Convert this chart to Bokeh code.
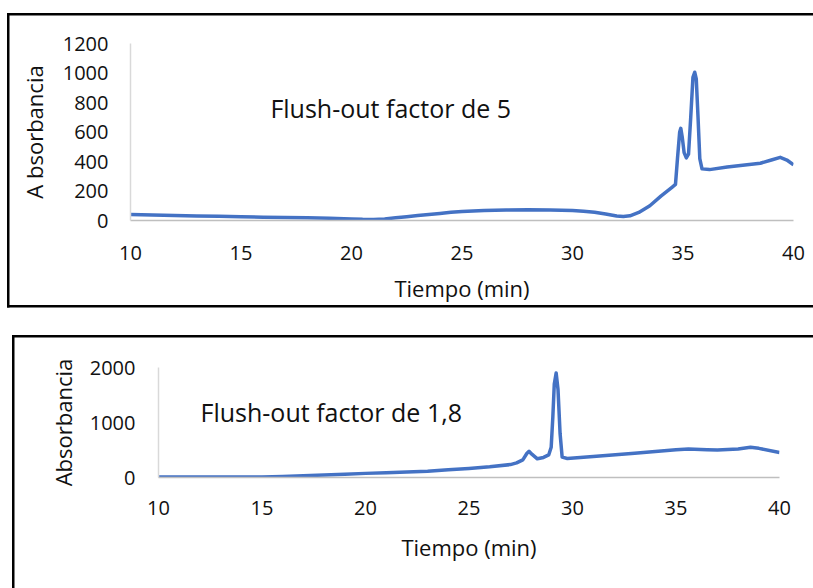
from bokeh.plotting import figure
from bokeh.models import Range1d, FixedTicker, Label
from bokeh.embed import file_html
from bokeh.resources import INLINE

FONT = "Open Sans"
LINE_COLOR = "#4472C4"

# ---- Data: Flush-out factor de 5 ----
time_5 = [10, 11, 12, 13, 14, 15, 16, 17, 18, 19, 20, 20.5, 21, 21.5, 22, 22.5,
          23, 24, 24.5, 25, 26, 27, 28, 29, 30, 30.5, 31, 31.5, 32, 32.3, 32.6,
          33, 33.5, 34, 34.5, 34.66, 34.75, 34.85, 34.9, 34.97, 35.05, 35.15,
          35.25, 35.35, 35.45, 35.53, 35.6, 35.68, 35.76, 35.86, 36.2, 37, 38,
          38.5, 39, 39.4, 39.7, 40]
abs_5 = [40, 37, 34, 31, 28, 25, 22, 20, 18, 15, 11, 8, 7, 10, 18, 26,
         34, 48, 56, 61, 67, 71, 73, 71, 67, 63, 56, 44, 30, 27, 32,
         55, 100, 165, 225, 245, 420, 600, 625, 560, 460, 425,
         450, 700, 970, 1005, 960, 700, 420, 350, 345, 362, 380,
         388, 410, 428, 410, 378]

# ---- Data: Flush-out factor de 1,8 ----
time_18 = [10, 12, 14, 15, 16, 17, 18, 19, 20, 21, 22, 23, 24, 25, 26, 27,
           27.3, 27.6, 27.8, 27.9, 28.05, 28.3, 28.6, 28.85, 28.97, 29.05,
           29.12, 29.21, 29.3, 29.4, 29.5, 29.75, 31, 33, 35, 35.6, 36.5, 37,
           38, 38.6, 39, 40]
abs_18 = [8, 8, 9, 10, 18, 32, 46, 60, 75, 88, 100, 115, 140, 165, 195, 235,
          265, 320, 440, 475, 420, 340, 365, 410, 550, 1100,
          1700, 1900, 1600, 800, 370, 345, 380, 440, 505, 520, 505, 500,
          520, 550, 530, 455]

x_ticks = [10, 15, 20, 25, 30, 35, 40]
y_ticks_5 = [0, 200, 400, 600, 800, 1000, 1200]
y_ticks_18 = [0, 1000, 2000]

x_label = "Tiempo (min)"
y_label_5 = "A bsorbancia"
y_label_18 = "Absorbancia"
title_5 = "Flush-out factor de 5"
title_18 = "Flush-out factor de 1,8"


def frame_css(left, top, bottom, lw):
    """CSS background drawing the chart-area border (left, top, optional bottom)."""
    left_len = (bottom - top + lw) if bottom is not None else 1000
    layers = [f"linear-gradient(#000,#000) {left}px {top}px / {lw}px {left_len}px no-repeat",
              f"linear-gradient(#000,#000) {left}px {top}px / 2000px {lw}px no-repeat"]
    if bottom is not None:
        layers.append(f"linear-gradient(#000,#000) {left}px {bottom}px / 2000px {lw}px no-repeat")
    return {"background": ", ".join(layers) + ", #ffffff"}


def make_panel(height, xs, ys, y_max, y_ticks, y_label, title, title_x, title_y,
               b_left, b_right, b_top, b_bottom,
               x_std, x_lbl_std, y_std, y_lbl_std, styles):
    p = figure(width=813, height=height, output_backend="svg",
               toolbar_location=None, title=None,
               x_range=Range1d(10, 40), y_range=Range1d(0, y_max),
               min_border_left=b_left, min_border_right=b_right,
               min_border_top=b_top, min_border_bottom=b_bottom,
               styles=styles)
    p.outline_line_color = None
    p.xgrid.visible = False
    p.ygrid.visible = False
    p.background_fill_color = None
    p.border_fill_color = None

    p.line(xs, ys, line_color=LINE_COLOR, line_width=3.5, line_join="round")

    for ax in (p.xaxis[0], p.yaxis[0]):
        ax.major_tick_line_color = None
        ax.minor_tick_line_color = None
        ax.major_tick_out = 0
        ax.major_tick_in = 0
        ax.major_label_text_font = FONT
        ax.major_label_text_font_size = "20px"
        ax.major_label_text_color = "#111111"
        ax.axis_label_text_font = FONT
        ax.axis_label_text_font_size = "22px"
        ax.axis_label_text_font_style = "normal"
        ax.axis_label_text_color = "#111111"

    p.xaxis.ticker = FixedTicker(ticks=x_ticks)
    p.yaxis.ticker = FixedTicker(ticks=y_ticks)
    p.xaxis.axis_label = x_label
    p.yaxis.axis_label = y_label
    p.xaxis.axis_line_color = "#bfbfbf"
    p.xaxis.axis_line_width = 1.5
    p.yaxis.axis_line_color = "#d9d9d9"
    p.yaxis.axis_line_width = 1.5
    p.xaxis.major_label_standoff = x_std
    p.xaxis.axis_label_standoff = x_lbl_std
    p.yaxis.major_label_standoff = y_std
    p.yaxis.axis_label_standoff = y_lbl_std

    p.add_layout(Label(x=title_x, y=title_y, text=title, text_font=FONT,
                       text_font_size="25px", text_color="#111111",
                       text_baseline="alphabetic"))
    return p


p1 = make_panel(320, time_5, abs_5, 1200, y_ticks_5, y_label_5, title_5, 16.33, 766,
                130, 20, 43, 100,
                25, 10, 22, 11,
                frame_css(7, 13, 305, 2.5))

p2 = make_panel(268, time_18, abs_18, 2000, y_ticks_18, y_label_18, title_18, 12.03, 1187,
                158, 34, 47, 111,
                23, 14, 23, 9,
                frame_css(12, 15, None, 2.5))

open("out.html", "w").write(file_html([p1, p2], INLINE))
